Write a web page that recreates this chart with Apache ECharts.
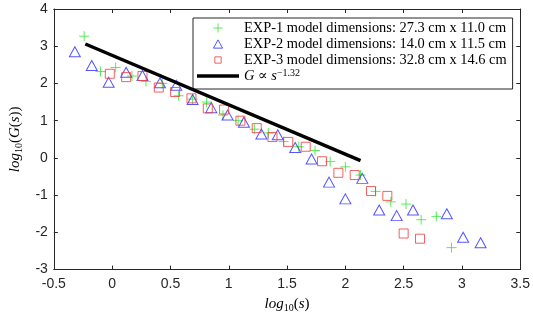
<!DOCTYPE html>
<html>
<head>
<meta charset="utf-8">
<script src="https://cdn.jsdelivr.net/npm/echarts@6/dist/echarts.min.js"></script>
<style>html,body{margin:0;padding:0;background:#fff}#c{width:533px;height:318px}</style>
</head>
<body>
<div id="c"></div>
<script>
// ---- data (log10(s), log10(G(s))) ----
const exp1Name = 'EXP-1 model dimensions: 27.3 cm x 11.0 cm';
const exp2Name = 'EXP-2 model dimensions: 14.0 cm x 11.5 cm';
const exp3Name = 'EXP-3 model dimensions: 32.8 cm x 14.6 cm';
const fitName = 'G ∝ s^-1.32';

const exp1 = [[-0.24,3.27],[-0.10,2.32],[0.03,2.43],[0.17,2.20],[0.29,2.05],[0.43,2.00],[0.57,1.67],[0.69,1.58],[0.81,1.50],[0.95,1.15],[1.08,1.00],[1.22,0.77],[1.34,0.67],[1.47,0.44],[1.60,0.30],[1.74,0.20],[1.87,-0.10],[2.00,-0.24],[2.13,-0.46],[2.26,-0.90],[2.39,-1.18],[2.52,-1.24],[2.65,-1.66],[2.78,-1.57],[2.91,-2.41]];
const exp2 = [[-0.32,2.85],[-0.175,2.48],[-0.03,2.03],[0.12,2.30],[0.26,2.21],[0.41,2.02],[0.55,1.95],[0.69,1.57],[0.85,1.35],[0.99,1.15],[1.13,0.96],[1.28,0.64],[1.42,0.62],[1.57,0.28],[1.71,-0.03],[1.86,-0.65],[2.00,-1.10],[2.145,-0.55],[2.29,-1.40],[2.44,-1.55],[2.58,-1.40],[2.87,-1.50],[3.01,-2.13],[3.16,-2.28]];
const exp3 = [[-0.02,2.26],[0.12,2.17],[0.26,2.20],[0.40,1.89],[0.54,1.77],[0.68,1.60],[0.82,1.33],[0.96,1.30],[1.10,1.00],[1.24,0.80],[1.375,0.56],[1.51,0.43],[1.66,0.30],[1.80,-0.09],[1.94,-0.40],[2.08,-0.46],[2.22,-0.89],[2.36,-1.02],[2.50,-2.03],[2.64,-2.17]];
const fitLine = [[-0.23,3.06],[2.13,-0.07]];

const xMin = -0.5, xMax = 3.5, xStep = 0.5;
const yMin = -3, yMax = 4, yStep = 1;

// ---- styling ----
const axisColor = '#262626';
const green = '#33e633', blue = '#2b2bff', red = '#f03a3a';
const plusPath = 'path://M0,5L10,5M5,0L5,10';
// legend icons (padded bounding boxes so they draw a bit smaller)
const legPlus = 'path://M-1,-1M11,11M0,5L10,5M5,0L5,10';
const legTri = 'path://M-1,-1.5M11,10.5M5,0L10,9L0,9Z';
const legSq = 'path://M-2,-2M12,12M1,1L9,1L9,9L1,9Z';
const barPath = 'path://M0,0L42,0L42,3.5L0,3.5Z';
const serif = '"Liberation Serif", "DejaVu Serif", serif';
const sans = '"Liberation Sans", Arial, sans-serif';

const chart = echarts.init(document.getElementById('c'), null, {renderer: 'canvas'});

function baseAxis(extra) {
  return Object.assign({
    type: 'value',
    axisLine: {show: true, onZero: false, lineStyle: {color: axisColor, width: 1}},
    axisTick: {show: true, inside: true, length: 4, lineStyle: {color: axisColor, width: 1}},
    splitLine: {show: false},
    axisLabel: {color: axisColor, fontFamily: sans, fontSize: 14}
  }, extra);
}

const richName = {
  i: {fontFamily: serif, fontStyle: 'italic', fontSize: 15, lineHeight: 18, color: '#000', verticalAlign: 'middle'},
  n: {fontFamily: serif, fontSize: 15, lineHeight: 18, color: '#000', verticalAlign: 'middle'},
  s: {fontFamily: serif, fontSize: 10, lineHeight: 12, color: '#000', verticalAlign: 'bottom'}
};

const option = {
  animation: false,
  backgroundColor: '#fff',
  grid: {left: 43, right: 10, top: 9, bottom: 46, containLabel: false},
  xAxis: [
    baseAxis({min: xMin, max: xMax, interval: xStep, position: 'bottom',
      axisLabel: {color: axisColor, fontFamily: sans, fontSize: 14, margin: 8},
      name: '{i|log}{s|10}{n|(}{i|s}{n|)}', nameLocation: 'middle', nameGap: 25,
      nameTextStyle: {rich: richName}}),
    baseAxis({min: xMin, max: xMax, interval: xStep, position: 'top', axisLabel: {show: false}})
  ],
  yAxis: [
    baseAxis({min: yMin, max: yMax, interval: yStep, position: 'left',
      axisLabel: {color: axisColor, fontFamily: sans, fontSize: 14, margin: 6},
      name: '{i|log}{s|10}{n|(}{i|G}{n|(}{i|s}{n|))}', nameLocation: 'middle', nameGap: 20, nameRotate: 90,
      nameTextStyle: {rich: richName}}),
    baseAxis({min: yMin, max: yMax, interval: yStep, position: 'right', axisLabel: {show: false}})
  ],
  legend: {
    orient: 'vertical',
    left: 193, top: 18,
    padding: [2, 6, 5, 4],
    itemGap: 0,
    itemWidth: 42, itemHeight: 11,
    backgroundColor: '#fff',
    borderColor: axisColor, borderWidth: 1,
    symbolKeepAspect: true,
    selectedMode: false,
    textStyle: {fontFamily: serif, fontSize: 14.4, lineHeight: 16, color: '#000',
      rich: {
        i: {fontFamily: serif, fontStyle: 'italic', fontSize: 14.4, lineHeight: 16, color: '#000'},
        n: {fontFamily: serif, fontSize: 14.4, lineHeight: 16, color: '#000'},
        sup: {fontFamily: serif, fontSize: 10, lineHeight: 10, color: '#000', verticalAlign: 'top'}
      }},
    formatter: function (name) {
      if (name === fitName) return '{i|G} {n|∝} {i|s}{sup|−1.32}';
      return name;
    },
    data: [
      {name: exp1Name, icon: legPlus, itemStyle: {color: 'rgba(0,0,0,0)', borderColor: green, borderWidth: 1}},
      {name: exp2Name, icon: legTri, itemStyle: {color: 'rgba(0,0,0,0)', borderColor: blue, borderWidth: 1}},
      {name: exp3Name, icon: legSq, itemStyle: {color: 'rgba(0,0,0,0)', borderColor: red, borderWidth: 1}},
      {name: fitName, icon: barPath, itemStyle: {color: '#000', borderWidth: 0}}
    ]
  },
  series: [
    {name: exp1Name, type: 'scatter', data: exp1, symbol: plusPath, symbolSize: 10,
      itemStyle: {color: 'rgba(0,0,0,0)', borderColor: green, borderWidth: 1}, z: 2},
    {name: exp2Name, type: 'scatter', data: exp2, symbol: 'triangle', symbolSize: [11, 10],
      itemStyle: {color: 'rgba(0,0,0,0)', borderColor: blue, borderWidth: 1}, z: 3},
    {name: exp3Name, type: 'scatter', data: exp3, symbol: 'rect', symbolSize: 9,
      itemStyle: {color: 'rgba(0,0,0,0)', borderColor: red, borderWidth: 1}, z: 4},
    {name: fitName, type: 'line', data: fitLine, symbol: 'none', showSymbol: false,
      lineStyle: {color: '#000', width: 3.5}, itemStyle: {color: '#000'}, z: 5}
  ]
};
chart.setOption(option);
</script>
</body>
</html>
